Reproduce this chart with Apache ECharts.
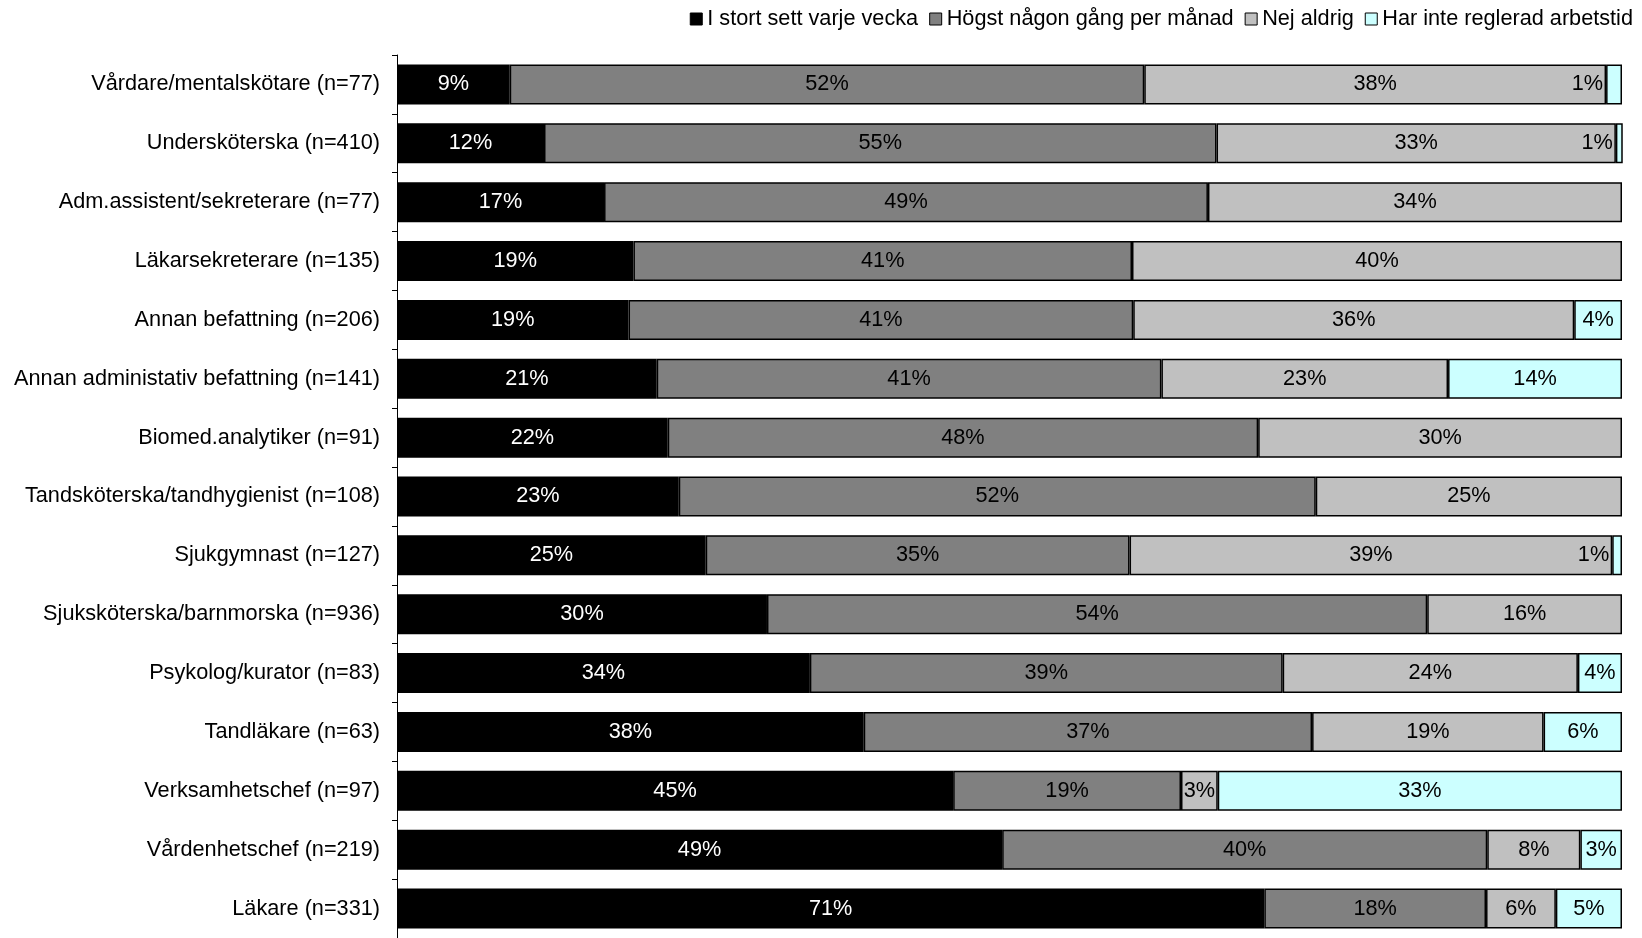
<!DOCTYPE html>
<html>
<head>
<meta charset="utf-8">
<script src="https://cdn.jsdelivr.net/npm/echarts@6/dist/echarts.min.js"></script>
<style>
html,body{margin:0;padding:0;background:#fff;}
#chart{width:1642px;height:938px;}
</style>
</head>
<body>
<div id="chart"></div>
<script>
const categories = [
  'Vårdare/mentalskötare (n=77)',
  'Undersköterska (n=410)',
  'Adm.assistent/sekreterare (n=77)',
  'Läkarsekreterare (n=135)',
  'Annan befattning (n=206)',
  'Annan administativ befattning (n=141)',
  'Biomed.analytiker (n=91)',
  'Tandsköterska/tandhygienist (n=108)',
  'Sjukgymnast (n=127)',
  'Sjuksköterska/barnmorska (n=936)',
  'Psykolog/kurator (n=83)',
  'Tandläkare (n=63)',
  'Verksamhetschef (n=97)',
  'Vårdenhetschef (n=219)',
  'Läkare (n=331)'
];
const seriesNames = ['I stort sett varje vecka', 'Högst någon gång per månad', 'Nej aldrig', 'Har inte reglerad arbetstid'];
const varjeVecka = [9.2, 12.0, 16.9, 19.3, 18.9, 21.2, 22.1, 23.0, 25.2, 30.2, 33.7, 38.1, 45.4, 49.4, 70.8];
const perManad   = [51.8, 54.9, 49.3, 40.7, 41.2, 41.2, 48.2, 52.0, 34.6, 53.9, 38.6, 36.6, 18.6, 39.6, 18.1];
const nejAldrig  = [37.7, 32.6, 33.8, 40.0, 36.0, 23.4, 29.7, 25.0, 39.4, 15.9, 24.1, 18.9, 3.0, 7.6, 5.7];
const ejReglerad = [1.3, 0.6, 0, 0, 3.9, 14.2, 0, 0, 0.8, 0, 3.6, 6.4, 33.0, 3.4, 5.4];

const colors = ['#000000', '#808080', '#C0C0C0', '#CCFFFF'];
const labelColors = ['#ffffff', '#000000', '#000000', '#000000'];
const allData = [varjeVecka, perManad, nejAldrig, ejReglerad];
const FONT = 'Liberation Sans, Arial, sans-serif';
const FS = 21.7;

const series = allData.map((arr, si) => ({
  name: seriesNames[si],
  type: 'bar',
  stack: 'total',
  barWidth: 40,
  itemStyle: { color: colors[si], borderColor: '#000', borderWidth: 1.5 },
  data: arr.map(v => {
    if (v === 0) return { value: null };
    const small = v < 2;
    return {
      value: v,
      label: {
        show: true,
        position: small ? 'left' : 'inside',
        distance: 3,
        color: small ? '#000' : labelColors[si],
        formatter: p => Math.round(p.value) + '%',
        fontFamily: FONT,
        fontSize: FS
      }
    };
  })
}));

const chart = echarts.init(document.getElementById('chart'), null, { renderer: 'canvas' });
chart.setOption({
  animation: false,
  color: colors,
  legend: {
    top: 3,
    right: 4,
    itemGap: 11,
    itemWidth: 12,
    itemHeight: 12,
    icon: 'rect',
    textStyle: { fontFamily: FONT, fontSize: FS, color: '#000' },
    itemStyle: { borderColor: '#000', borderWidth: 1 },
    data: seriesNames
  },
  grid: { left: 397, right: 20, top: 55, bottom: -3, containLabel: false },
  xAxis: { type: 'value', min: 0, max: 100, show: false },
  yAxis: {
    type: 'category',
    inverse: true,
    data: categories,
    axisLine: { show: true, lineStyle: { color: '#000', width: 1 } },
    axisTick: { show: true, length: 5, lineStyle: { color: '#000' } },
    axisLabel: { fontFamily: FONT, fontSize: FS, color: '#000', margin: 17 }
  },
  series: series
});
</script>
</body>
</html>
